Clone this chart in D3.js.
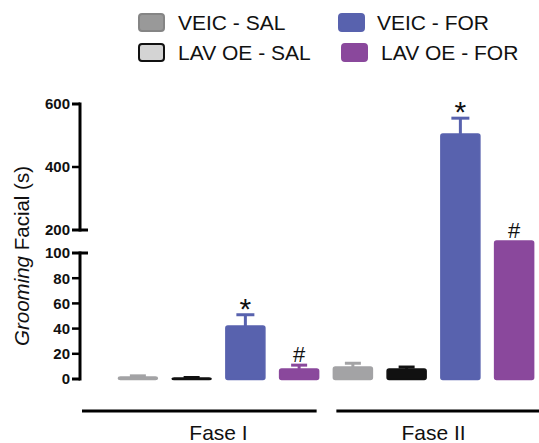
<!DOCTYPE html>
<html><head><meta charset="utf-8">
<script src="https://cdn.jsdelivr.net/npm/d3@7"></script>
<style>body{margin:0;background:#fff}svg{display:block;font-family:"Liberation Sans",Arial,sans-serif}</style>
</head><body><svg id="c" width="539" height="443"></svg>
<script>
const groups = ["VEIC - SAL","LAV OE - SAL","VEIC - FOR","LAV OE - FOR"];
const phases = ["Fase I","Fase II"];
const meansFase1 = [1.5, 0.8, 42, 8];
const errFase1   = [1, 0.4, 9, 3];
const meansFase2 = [9.5, 8, 505, 152];
const errFase2   = [3, 1.5, 50, 0];
const marksFase1 = ["", "", "*", "#"];
const marksFase2 = ["", "", "*", "#"];
const lowerTicks = [0,20,40,60,80,100];
const upperTicks = [200,400,600];
const barColors = ["#a3a3a5","#111111","#5862ae","#8a489c"];
const legendFill = ["#999999","#d4d4d4","#5862ae","#8a489c"];
const legendStroke = ["#858585","#111111","#5862ae","#8a489c"];

const svg = d3.select("#c");
const axisX = 80;
const y = d3.scaleLinear().domain([0,100,200,600]).range([379,253,230,104]);

const keys = [];
phases.forEach((p,pi)=>groups.forEach((g,gi)=>keys.push(p+"|"+g)));
const x = d3.scaleBand().domain(keys).range([111,541]).paddingInner(0.274).paddingOuter(0.137);
const bw = x.bandwidth();

const rows = [];
phases.forEach((p,pi)=>groups.forEach((g,gi)=>{
  const m = pi===0?meansFase1[gi]:meansFase2[gi];
  const e = pi===0?errFase1[gi]:errFase2[gi];
  const mk = pi===0?marksFase1[gi]:marksFase2[gi];
  rows.push({key:p+"|"+g, gi, m, e, mk});
}));

// error bars (upper only)
rows.forEach(r=>{
  if(r.e<=0) return;
  const cx = x(r.key)+bw/2;
  const col = barColors[r.gi];
  const capW = r.m>20?18:16;
  svg.append("line").attr("x1",cx).attr("x2",cx).attr("y1",y(r.m)).attr("y2",y(r.m+r.e))
    .attr("stroke",col).attr("stroke-width",3);
  svg.append("line").attr("x1",cx-capW/2).attr("x2",cx+capW/2).attr("y1",y(r.m+r.e)).attr("y2",y(r.m+r.e))
    .attr("stroke",col).attr("stroke-width",3);
});
// bars
svg.selectAll("rect.bar").data(rows).join("rect").attr("class","bar")
  .attr("x",d=>x(d.key)).attr("width",bw)
  .attr("y",d=>y(d.m)).attr("height",d=>y(0)-y(d.m)+0.5)
  .attr("rx",2).attr("fill",d=>barColors[d.gi])
  .attr("stroke",d=>barColors[d.gi]).attr("stroke-width",1.5);
// significance marks
rows.forEach(r=>{
  if(!r.mk) return;
  const top = y(r.m+r.e);
  const isStar = r.mk==="*";
  svg.append("text").attr("x",x(r.key)+bw/2).attr("y", isStar? top+4 : top-3)
    .attr("text-anchor","middle").attr("font-size",isStar?30:22).attr("fill","#111").text(r.mk);
});

// axis: two segments
const ax = svg.append("g").attr("stroke","#000").attr("stroke-width",3).attr("fill","none");
ax.append("line").attr("x1",axisX).attr("x2",axisX).attr("y1",y(0)+1.5).attr("y2",y(100)-1.5);
ax.append("line").attr("x1",axisX).attr("x2",axisX).attr("y1",y(200)+1.5).attr("y2",y(600)-1.5);
lowerTicks.concat(upperTicks).forEach(t=>{
  const brk = (t===100||t===200);
  ax.append("line").attr("x1",axisX-8).attr("x2",brk?axisX+8:axisX).attr("y1",y(t)).attr("y2",y(t))
    .attr("stroke-width",t===0||brk||t===600?3:2.5);
});
svg.append("g").selectAll("text").data(lowerTicks.concat(upperTicks)).join("text")
  .attr("x",axisX-10).attr("y",d=>y(d)).attr("dy","0.36em").attr("text-anchor","end")
  .attr("font-size",15).attr("font-weight","bold").attr("fill","#111").text(d=>d);

// y title
const yt = svg.append("text").attr("transform","translate(29,256) rotate(-90)")
  .attr("text-anchor","middle").attr("font-size",20.5).attr("fill","#111");
yt.append("tspan").attr("font-style","italic").text("Grooming");
yt.append("tspan").text(" Facial (s)");

// phase lines and labels
phases.forEach((p,pi)=>{
  const first = x(p+"|"+groups[0]), last = x(p+"|"+groups[groups.length-1])+bw;
  const x1 = pi===0?axisX+2:first+3;
  const x2 = pi===0?last-2:539;
  svg.append("line").attr("x1",x1).attr("x2",x2).attr("y1",411).attr("y2",411).attr("stroke","#000").attr("stroke-width",3);
  svg.append("text").attr("x",(first+last)/2).attr("y",440).attr("text-anchor","middle")
    .attr("font-size",21).attr("fill","#111").text(p);
});

// legend
const legPos = [[138,13],[138,43],[338,13],[341,43]];
const textX = [178,178,377,381];
groups.forEach((g,i)=>{
  svg.append("rect").attr("x",legPos[i][0]+1).attr("y",legPos[i][1]+1).attr("width",25).attr("height",17).attr("rx",3)
    .attr("fill",legendFill[i]).attr("stroke",legendStroke[i]).attr("stroke-width",2);
  svg.append("text").attr("x",textX[i]).attr("y",legPos[i][1]+17).attr("font-size",21).attr("fill","#111").text(g);
});
</script></body></html>
